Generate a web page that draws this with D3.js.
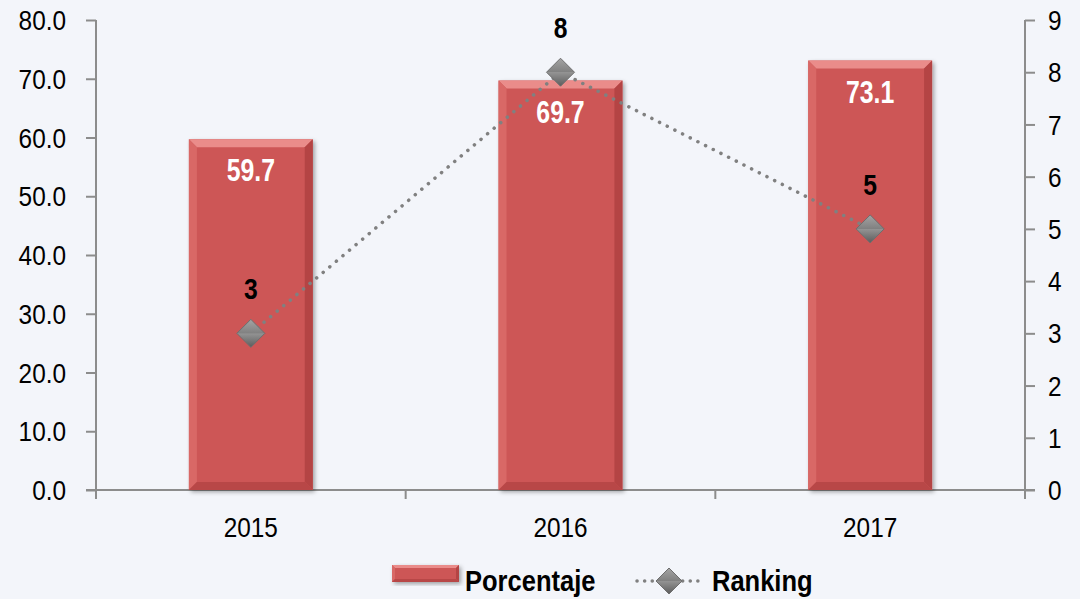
<!DOCTYPE html>
<html>
<head>
<meta charset="utf-8">
<script src="https://cdn.jsdelivr.net/npm/d3@7"></script>
<style>
  body { margin: 0; background: #f3f5fa; }
  svg text { font-family: "Liberation Sans Narrow", "Arial Narrow", "Liberation Sans", sans-serif; }
</style>
</head>
<body>
<div id="chart"></div>
<script>
// data
var years = ["2015", "2016", "2017"];
var porcentaje = [59.7, 69.7, 73.1];
var ranking = [3, 8, 5];
var leftTicks = [0, 10, 20, 30, 40, 50, 60, 70, 80];
var rightTicks = [0, 1, 2, 3, 4, 5, 6, 7, 8, 9];

var W = 1080, H = 599;
var pLeft = 96, pRight = 1025, pTop = 20, pBottom = 490;

var svg = d3.select("#chart").append("svg").attr("width", W).attr("height", H);
var defs = svg.append("defs");

// no narrow font installed, so squeeze the text sideways
function squash(sel, sx) {
  sel.each(function() {
    var t = d3.select(this);
    var tx = +t.attr("x") || 0, ty = +t.attr("y") || 0;
    t.attr("x", 0).attr("y", 0)
      .attr("transform", "translate(" + tx + "," + ty + ") scale(" + sx + ",1)");
  });
}

// shadow for bars
var f = defs.append("filter").attr("id", "shadow").attr("x", "-10%").attr("y", "-10%").attr("width", "130%").attr("height", "130%");
f.append("feDropShadow").attr("dx", 2).attr("dy", 2).attr("stdDeviation", 2).attr("flood-color", "#000").attr("flood-opacity", 0.35);

var dg = defs.append("linearGradient").attr("id", "diam").attr("x1", 0).attr("y1", 0).attr("x2", 0).attr("y2", 1);
dg.append("stop").attr("offset", "0%").attr("stop-color", "#a4a4a4");
dg.append("stop").attr("offset", "50%").attr("stop-color", "#808080");
dg.append("stop").attr("offset", "51%").attr("stop-color", "#939393");
dg.append("stop").attr("offset", "100%").attr("stop-color", "#5c5c5c");

var x = d3.scaleBand().domain(years).range([pLeft, pRight]);
var yL = d3.scaleLinear().domain([0, 80]).range([pBottom, pTop]);
var yR = d3.scaleLinear().domain([0, 9]).range([pBottom, pTop]);

var axisColor = "#8c8c8c";

// left axis
var gl = svg.append("g").attr("transform", "translate(" + pLeft + ",0)")
  .call(d3.axisLeft(yL).tickValues(leftTicks).tickSize(10).tickPadding(20).tickFormat(d3.format(".1f")));
// right axis
var gr = svg.append("g").attr("transform", "translate(" + pRight + ",0)")
  .call(d3.axisRight(yR).tickValues(rightTicks).tickSize(10).tickPadding(13).tickFormat(d3.format("d")));
[gl, gr].forEach(function(g) {
  g.select(".domain").attr("stroke", axisColor).attr("stroke-width", 2)
    .attr("d", "M0," + pTop + "V" + (pBottom + 9));
  g.selectAll(".tick line").attr("stroke", axisColor).attr("stroke-width", 2);
  g.selectAll(".tick text").attr("fill", "#000").attr("dy", null).attr("dominant-baseline", "central")
    .style("font-size", "28px");
  squash(g.selectAll(".tick text"), 0.87);
});

// x axis
var gx = svg.append("g").attr("transform", "translate(0," + pBottom + ")")
  .call(d3.axisBottom(x).tickSize(0).tickPadding(47));
gx.select(".domain").attr("d", "M" + (pLeft - 10) + ",0H" + (pRight + 10)).attr("stroke", axisColor).attr("stroke-width", 2);
gx.selectAll(".tick text").attr("fill", "#000").attr("dy", null).style("font-size", "28px");
squash(gx.selectAll(".tick text"), 0.87);
// category boundary ticks
svg.append("g").selectAll("line").data(years.slice(1)).enter().append("line")
  .attr("x1", function(d) { return x(d); }).attr("x2", function(d) { return x(d); })
  .attr("y1", pBottom).attr("y2", pBottom + 9)
  .attr("stroke", axisColor).attr("stroke-width", 2);

// bevelled bar
function bevelBar(g, x0, y0, w, h, b) {
  g.append("rect").attr("x", x0).attr("y", y0).attr("width", w).attr("height", h)
    .attr("fill", "#cd5656").attr("filter", "url(#shadow)");
  var pts = function(a) { return a.map(function(p) { return p.join(","); }).join(" "); };
  g.append("polygon").attr("points", pts([[x0, y0], [x0 + w, y0], [x0 + w - b, y0 + b], [x0 + b, y0 + b]])).attr("fill", "#ea8c8a");
  g.append("polygon").attr("points", pts([[x0, y0], [x0 + b, y0 + b], [x0 + b, y0 + h - b], [x0, y0 + h]])).attr("fill", "#d96866");
  g.append("polygon").attr("points", pts([[x0 + w, y0], [x0 + w, y0 + h], [x0 + w - b, y0 + h - b], [x0 + w - b, y0 + b]])).attr("fill", "#b44444");
  g.append("polygon").attr("points", pts([[x0, y0 + h], [x0 + w, y0 + h], [x0 + w - b, y0 + h - b], [x0 + b, y0 + h - b]])).attr("fill", "#b84747");
}

var bw = x.bandwidth() * 0.4;
var bars = svg.append("g");
porcentaje.forEach(function(v, i) {
  var cx = x(years[i]) + x.bandwidth() / 2;
  bevelBar(bars, cx - bw / 2, yL(v), bw, yL(0) - yL(v), 8);
});
var barLabels = svg.append("g").selectAll("text").data(porcentaje).enter().append("text")
  .attr("x", function(d, i) { return x(years[i]) + x.bandwidth() / 2; })
  .attr("y", function(d) { return yL(d) + 42; })
  .attr("text-anchor", "middle").attr("fill", "#fff").attr("font-weight", "bold")
  .style("font-size", "31px").text(function(d) { return d.toFixed(1); });
squash(barLabels, 0.8);

// ranking line
var line = d3.line()
  .x(function(d, i) { return x(years[i]) + x.bandwidth() / 2; })
  .y(function(d) { return yR(d); });
svg.append("path").datum(ranking).attr("d", line).attr("fill", "none")
  .attr("stroke", "#808080").attr("stroke-width", 3.5).attr("stroke-linecap", "round")
  .attr("stroke-dasharray", "0.1 8.5");

function diamond(g, cx, cy, r) {
  g.append("path").attr("d", "M" + cx + "," + (cy - r) + "L" + (cx + r) + "," + cy + "L" + cx + "," + (cy + r) + "L" + (cx - r) + "," + cy + "Z")
    .attr("fill", "url(#diam)").attr("stroke", "#6e6e6e").attr("stroke-width", 1);
}
var marks = svg.append("g");
ranking.forEach(function(v, i) {
  diamond(marks, x(years[i]) + x.bandwidth() / 2, yR(v), 14);
});
var rankLabels = svg.append("g").selectAll("text").data(ranking).enter().append("text")
  .attr("x", function(d, i) { return x(years[i]) + x.bandwidth() / 2; })
  .attr("y", function(d) { return yR(d) - 34; })
  .attr("text-anchor", "middle").attr("fill", "#000").attr("font-weight", "bold")
  .style("font-size", "29px").text(function(d) { return d; });
squash(rankLabels, 0.85);

// legend
var lg = svg.append("g");
bevelBar(lg, 392, 565, 67, 17, 3);
var l1 = lg.append("text").attr("x", 465).attr("y", 591).attr("font-weight", "bold").style("font-size", "29px").text("Porcentaje");
lg.append("line").attr("x1", 637).attr("x2", 701).attr("y1", 581).attr("y2", 581)
  .attr("stroke", "#808080").attr("stroke-width", 3.5).attr("stroke-linecap", "round").attr("stroke-dasharray", "0.1 7.5");
diamond(lg, 669, 581, 13);
var l2 = lg.append("text").attr("x", 712).attr("y", 591).attr("font-weight", "bold").style("font-size", "29px").text("Ranking");
squash(lg.selectAll("text"), 0.88);
</script>
</body>
</html>
